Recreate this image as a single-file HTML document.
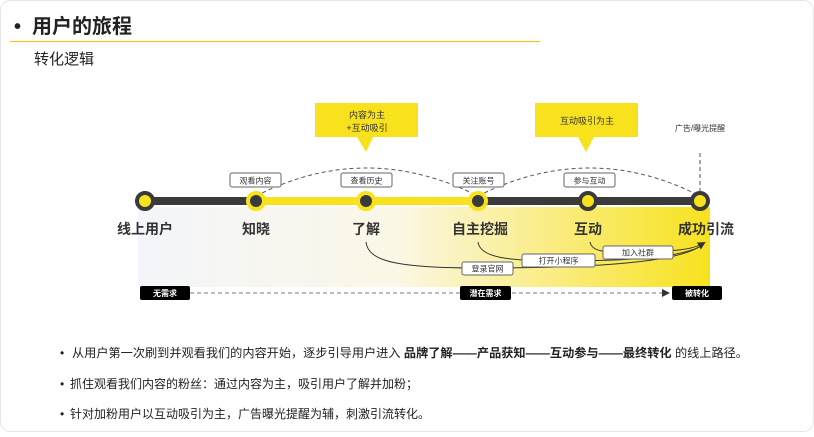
<!DOCTYPE html>
<html><head><meta charset="utf-8"><style>
html,body{margin:0;padding:0;background:#fff;}
body{width:814px;height:432px;overflow:hidden;font-family:"Liberation Sans","Noto Sans CJK SC",sans-serif;}
</style></head><body>
<svg width="814" height="432" viewBox="0 0 814 432" xmlns="http://www.w3.org/2000/svg" font-family="Liberation Sans, Noto Sans CJK SC, sans-serif">
<defs>
<linearGradient id="bg" x1="0" x2="1" y1="0" y2="0">
<stop offset="0" stop-color="#f3f5fa"/>
<stop offset="0.45" stop-color="#fbf7e6"/>
<stop offset="1" stop-color="#f8e21e"/>
</linearGradient>
<marker id="ar" markerWidth="8" markerHeight="8" refX="6" refY="4" orient="auto"><path d="M0,0 L8,4 L0,8 z" fill="#333"/></marker>
</defs>
<rect x="0.5" y="0.5" width="813" height="431" rx="10" fill="#fff" stroke="#e6e6e6"/>
<text x="14" y="33" font-size="20" font-weight="bold" fill="#222">•</text>
<text x="32" y="33" font-size="20" font-weight="bold" fill="#222">用户的旅程</text>
<line x1="10" y1="41.5" x2="540" y2="41.5" stroke="#f5c130" stroke-width="1.2"/>
<text x="34" y="64" font-size="15" fill="#222">转化逻辑</text>

<rect x="138" y="207" width="572" height="80" fill="url(#bg)"/>

<rect x="315" y="103" width="103" height="34" fill="#f8e21e"/>
<path d="M357,137 L366,152 L373,137 z" fill="#f8e21e"/>
<text x="367" y="118" font-size="9" text-anchor="middle" fill="#333">内容为主</text>
<text x="367" y="131" font-size="9" text-anchor="middle" fill="#333">+互动吸引</text>
<rect x="535" y="103" width="103" height="34" fill="#f8e21e"/>
<path d="M578,137 L586,152 L594,137 z" fill="#f8e21e"/>
<text x="587" y="124" font-size="9" text-anchor="middle" fill="#333">互动吸引为主</text>
<text x="700" y="131" font-size="8" text-anchor="middle" fill="#333">广告/曝光提醒</text>

<path d="M256,196 Q366,140 478,196" fill="none" stroke="#555" stroke-dasharray="4,3"/>
<path d="M478,196 Q590,140 700,196" fill="none" stroke="#555" stroke-dasharray="4,3"/>
<line x1="700" y1="153" x2="700" y2="192" stroke="#555" stroke-dasharray="4,3"/>

<line x1="145" y1="201" x2="256" y2="201" stroke="#3a3a3a" stroke-width="8"/>
<line x1="256" y1="201" x2="478" y2="201" stroke="#f8e21e" stroke-width="8"/>
<line x1="478" y1="201" x2="700" y2="201" stroke="#3a3a3a" stroke-width="8"/>
<circle cx="145" cy="201" r="8" fill="#f8e21e" stroke="#3a3a3a" stroke-width="4"/>
<circle cx="256" cy="201" r="8" fill="#3a3a3a" stroke="#f8e21e" stroke-width="4"/>
<circle cx="366" cy="201" r="8" fill="#3a3a3a" stroke="#f8e21e" stroke-width="4"/>
<circle cx="478" cy="201" r="8" fill="#3a3a3a" stroke="#f8e21e" stroke-width="4"/>
<circle cx="588" cy="201" r="8" fill="#f8e21e" stroke="#3a3a3a" stroke-width="4"/>
<circle cx="700" cy="201" r="8" fill="#f8e21e" stroke="#3a3a3a" stroke-width="4"/>

<g font-size="8" fill="#333" text-anchor="middle">
<rect x="230" y="173" width="51" height="14" rx="2" fill="#fff" stroke="#666"/><text x="255.5" y="183.5">观看内容</text>
<rect x="341" y="173" width="51" height="14" rx="2" fill="#fff" stroke="#666"/><text x="366.5" y="183.5">查看历史</text>
<rect x="453" y="173" width="51" height="14" rx="2" fill="#fff" stroke="#666"/><text x="478.5" y="183.5">关注账号</text>
<rect x="564" y="173" width="51" height="14" rx="2" fill="#fff" stroke="#666"/><text x="589.5" y="183.5">参与互动</text>
</g>

<g font-size="14" font-weight="bold" fill="#333" text-anchor="middle">
<text x="145" y="234">线上用户</text>
<text x="256" y="234">知晓</text>
<text x="366" y="234">了解</text>
<text x="480" y="234">自主挖掘</text>
<text x="588" y="234">互动</text>
<text x="706" y="234">成功引流</text>
</g>

<path d="M366,242 C368,262 400,268 480,268 C600,268 680,262 702,245" fill="none" stroke="#333" stroke-width="1"/>
<path d="M478,242 C480,258 510,261 560,261 C640,261 685,256 703,245" fill="none" stroke="#333" stroke-width="1"/>
<path d="M590,242 C592,252 605,253 640,252 C675,251 692,250 704,243" fill="none" stroke="#333" stroke-width="1" marker-end="url(#ar)"/>
<g font-size="8" fill="#333" text-anchor="middle">
<rect x="462" y="262" width="51" height="13" rx="2" fill="#fff" stroke="#666"/><text x="487.5" y="271.5">登录官网</text>
<rect x="522" y="254" width="73" height="13" rx="2" fill="#fff" stroke="#666"/><text x="558.5" y="263.5">打开小程序</text>
<rect x="603" y="246" width="70" height="13" rx="2" fill="#fff" stroke="#666"/><text x="638" y="255.5">加入社群</text>
</g>

<line x1="190" y1="293" x2="668" y2="293" stroke="#777" stroke-dasharray="4,3" marker-end="url(#ar)"/>
<g font-size="8" font-weight="bold" fill="#fff" text-anchor="middle">
<rect x="140" y="286" width="50" height="14" rx="2" fill="#000"/><text x="165" y="296">无需求</text>
<rect x="460" y="286" width="51" height="14" rx="2" fill="#000"/><text x="485.5" y="296">潜在需求</text>
<rect x="672" y="286" width="50" height="14" rx="2" fill="#000"/><text x="697" y="296">被转化</text>
</g>

<g font-size="12" fill="#222">
<text x="60" y="357">•</text>
<text x="72" y="357" textLength="676" lengthAdjust="spacingAndGlyphs">从用户第一次刷到并观看我们的内容开始，逐步引导用户进入 <tspan font-weight="bold">品牌了解——产品获知——互动参与——最终转化</tspan> 的线上路径。</text>
<text x="60" y="388">•</text>
<text x="70" y="388" textLength="348" lengthAdjust="spacingAndGlyphs">抓住观看我们内容的粉丝：通过内容为主，吸引用户了解并加粉；</text>
<text x="60" y="418">•</text>
<text x="70" y="418" textLength="360" lengthAdjust="spacingAndGlyphs">针对加粉用户以互动吸引为主，广告曝光提醒为辅，刺激引流转化。</text>
</g>
</svg>
</body></html>
